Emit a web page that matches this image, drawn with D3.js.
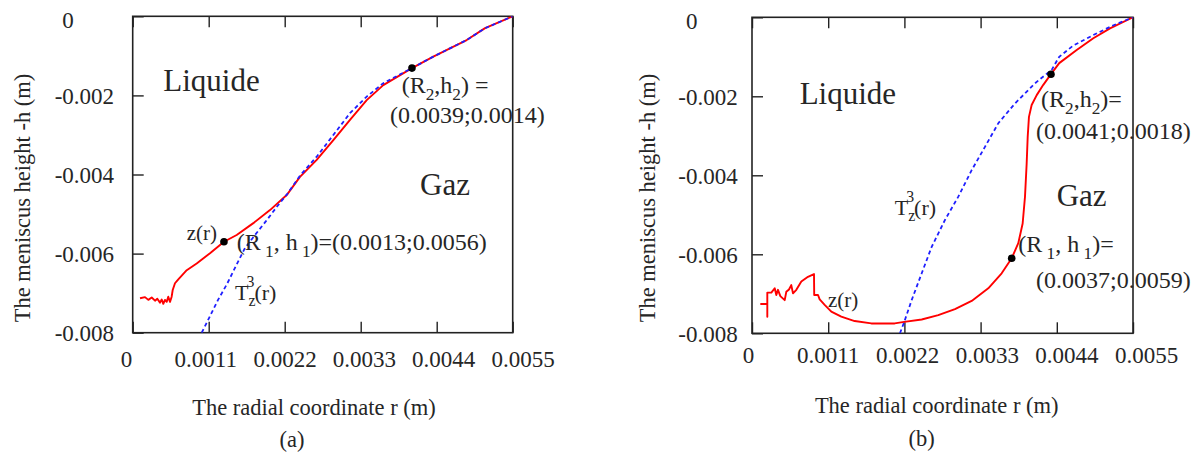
<!DOCTYPE html>
<html><head><meta charset="utf-8">
<script src="https://cdn.jsdelivr.net/npm/d3@7"></script>
<style>
body{margin:0;background:#fff}
svg text{font-family:"Liberation Serif","Times New Roman",serif;fill:#262626}
</style>
</head><body><svg id="c" width="1199" height="453"></svg>
<script>
// ---------- data ----------
const xTicks = [0, 0.0011, 0.0022, 0.0033, 0.0044, 0.0055];
const xTickLabels = ["0", "0.0011", "0.0022", "0.0033", "0.0044", "0.0055"];
const yTicks = [0, -0.002, -0.004, -0.006, -0.008];
const yTickLabels = ["0", "-0.002", "-0.004", "-0.006", "-0.008"];

// panel (a) : measured profile z(r)
const zA_r = [0.000106, 0.000178, 0.000226, 0.000275, 0.000323, 0.000356, 0.000395, 0.00042, 0.000443, 0.000467, 0.000492, 0.000515, 0.00054, 0.000564, 0.000579, 0.000612, 0.00066, 0.000782, 0.000926, 0.001119, 0.001321, 0.001505, 0.001746, 0.001987, 0.002229, 0.002421, 0.002663, 0.002904, 0.003145, 0.003387, 0.003627, 0.004042, 0.004351, 0.004592, 0.004834, 0.0051, 0.0055];
const zA_h = [-0.00713, -0.0071, -0.00717, -0.00711, -0.00719, -0.00714, -0.00724, -0.00716, -0.00727, -0.00717, -0.00722, -0.00709, -0.00722, -0.00709, -0.00692, -0.00675, -0.00665, -0.00642, -0.00625, -0.00599, -0.0057, -0.00553, -0.00523, -0.0049, -0.00452, -0.00406, -0.00363, -0.00313, -0.00262, -0.00212, -0.00174, -0.00131, -0.00102, -0.00081, -0.0006, -0.0003, 0];
// panel (a) : T_z^3(r)
const tA_r = [0.000999, 0.001119, 0.001235, 0.001365, 0.001495, 0.001625, 0.00177, 0.001929, 0.002089, 0.002233, 0.002421, 0.002663, 0.002904, 0.003145, 0.003387, 0.003627, 0.004042, 0.004351, 0.004592, 0.004834, 0.0051, 0.0055];
const tA_h = [-0.008, -0.00758, -0.00717, -0.00677, -0.00631, -0.00586, -0.00553, -0.00518, -0.00481, -0.0045, -0.00403, -0.00355, -0.003, -0.00245, -0.00203, -0.00169, -0.00131, -0.00102, -0.00081, -0.0006, -0.0003, 0];
const ptsA_r = [0.001321, 0.004042];
const ptsA_h = [-0.0057, -0.00131];

// panel (b) : measured profile z(r)
const zB_r = [0.00012, 0.000221, 0.000221, 0.000221, 0.000279, 0.000328, 0.000351, 0.000375, 0.000409, 0.000472, 0.000495, 0.000534, 0.000567, 0.000592, 0.00064, 0.000712, 0.000808, 0.000895, 0.000898, 0.000953, 0.000977, 0.001049, 0.001145, 0.001289, 0.001482, 0.001722, 0.00206, 0.002198, 0.00245, 0.002689, 0.00293, 0.003171, 0.003411, 0.003604, 0.003749, 0.003844, 0.003907, 0.003941, 0.003965, 0.00398, 0.003998, 0.004037, 0.00411, 0.004205, 0.004316, 0.004435, 0.004687, 0.004927, 0.005168, 0.0055];
const zB_h = [-0.00726, -0.00726, -0.00758, -0.00697, -0.00697, -0.00686, -0.00703, -0.0069, -0.00706, -0.00716, -0.00695, -0.00689, -0.00678, -0.00699, -0.0069, -0.00669, -0.00657, -0.0065, -0.00703, -0.00703, -0.00714, -0.00728, -0.00745, -0.00758, -0.00769, -0.00775, -0.00775, -0.00771, -0.00765, -0.00754, -0.00739, -0.00718, -0.00686, -0.00648, -0.0061, -0.00572, -0.00522, -0.00454, -0.0037, -0.00302, -0.00252, -0.00222, -0.00197, -0.00171, -0.00144, -0.00116, -0.00083, -0.00053, -0.00028, 0];
// panel (b) : T_z^3(r)
const tB_r = [0.002136, 0.002198, 0.002305, 0.00245, 0.002594, 0.002786, 0.002978, 0.003171, 0.003363, 0.003556, 0.003797, 0.004085, 0.004326, 0.004435, 0.004634, 0.004927, 0.00522, 0.0055];
const tB_h = [-0.008, -0.00771, -0.00716, -0.00648, -0.00581, -0.00513, -0.00454, -0.00387, -0.00328, -0.00268, -0.00218, -0.00167, -0.00133, -0.001, -0.00072, -0.00045, -0.0002, 0];
const ptsB_r = [0.003749, 0.004316];
const ptsB_h = [-0.0061, -0.00144];

// ---------- drawing ----------
const svg = d3.select("#c");
const zip = (a, b) => a.map((v, i) => [v, b[i]]);

function rich(g, x, y, parts, size, anchor) {
  const t = g.append("text").attr("x", x).attr("y", y).attr("font-size", size)
    .attr("text-anchor", anchor || "start");
  let cur = 0;
  parts.forEach(p => {
    const type = p[1] || "n";
    const off = type === "sub" ? size * 0.28 : type === "sup" ? -size * 0.58 : 0;
    const ts = t.append("tspan").text(p[0]).attr("dy", off - cur);
    if (type !== "n") ts.attr("font-size", size * 0.72);
    if (p[2]) ts.attr("dx", p[2]);
    cur = off;
  });
  return t;
}

function drawPanel(p) {
  const x = d3.scaleLinear().domain([0, 0.0055]).range([p.L, p.R]);
  const y = d3.scaleLinear().domain([-0.008, 0]).range([p.B, p.T]);
  const xl = d3.scaleLinear().domain([0, 0.0055]).range(p.xLabRange);
  const g = svg.append("g");
  const clipId = "clip" + p.id;
  svg.append("clipPath").attr("id", clipId).append("rect")
    .attr("x", p.L).attr("y", p.T).attr("width", p.R - p.L).attr("height", p.B - p.T);

  const tick = 11;
  const styleAxis = sel => { sel.select(".domain").remove(); sel.selectAll("line").attr("stroke", "#222").attr("stroke-width", 1.4); };
  g.append("g").attr("transform", `translate(0,${p.B})`)
    .call(d3.axisTop(x).tickValues(xTicks).tickSize(tick).tickFormat("")).call(styleAxis);
  g.append("g").attr("transform", `translate(0,${p.T})`)
    .call(d3.axisBottom(x).tickValues(xTicks).tickSize(tick).tickFormat("")).call(styleAxis);
  g.append("g").attr("transform", `translate(${p.L},0)`)
    .call(d3.axisRight(y).tickValues(yTicks).tickSize(tick).tickFormat("")).call(styleAxis);

  // x tick labels
  const xa = g.append("g").attr("transform", `translate(0,${p.xLabY})`)
    .call(d3.axisBottom(xl).tickValues(xTicks).tickSize(0).tickFormat((d, i) => xTickLabels[i]));
  xa.select(".domain").remove();
  xa.attr("font-family", null).attr("font-size", null);
  xa.selectAll("text").attr("y", 0).attr("dy", 0).attr("font-size", 23);

  // y tick labels
  const ya = g.append("g").attr("transform", `translate(${p.yLabX},0)`)
    .call(d3.axisLeft(y).tickValues(yTicks).tickSize(0).tickFormat((d, i) => yTickLabels[i]));
  ya.select(".domain").remove();
  ya.attr("font-family", null).attr("font-size", null);
  ya.selectAll("text").attr("x", 0).attr("dy", d => d === 0 ? "0.5em" : "0.35em").attr("font-size", 23)
    .attr("text-anchor", "start").attr("dx", d => d < 0 ? "-0.333em" : 0);

  // frame
  g.append("rect").attr("x", p.L).attr("y", p.T).attr("width", p.R - p.L).attr("height", p.B - p.T)
    .attr("fill", "none").attr("stroke", "#222").attr("stroke-width", 1.6);

  const line = d3.line().x(d => x(d[0])).y(d => y(d[1]));
  const plot = g.append("g").attr("clip-path", `url(#${clipId})`);
  plot.append("path").datum(zip(p.z_r, p.z_h)).attr("d", line)
    .attr("fill", "none").attr("stroke", "#ff0000").attr("stroke-width", 1.9).attr("stroke-linejoin", "round");
  plot.append("path").datum(zip(p.t_r, p.t_h)).attr("d", line)
    .attr("fill", "none").attr("stroke", "#1f1fff").attr("stroke-width", 1.8).attr("stroke-dasharray", "4,3");
  g.selectAll("circle.pt").data(zip(p.pt_r, p.pt_h)).enter().append("circle")
    .attr("cx", d => x(d[0])).attr("cy", d => y(d[1])).attr("r", 3.8).attr("fill", "#000");

  // titles
  g.append("text").attr("x", p.xTitle[0]).attr("y", p.xTitle[1]).attr("text-anchor", "middle")
    .attr("font-size", 22.5).text("The radial coordinate r (m)");
  g.append("text").attr("transform", `translate(${p.yTitle[0]},${p.yTitle[1]}) rotate(-90)`)
    .attr("text-anchor", "middle").attr("dy", "0.35em").attr("font-size", 22.5).text("The meniscus height -h (m)");
  g.append("text").attr("x", p.cap[0]).attr("y", p.cap[1]).attr("text-anchor", "middle")
    .attr("font-size", 22.5).text(p.capText);
  return g;
}

const gA = drawPanel({
  id: "A", L: 132.7, R: 512.7, T: 16.3, B: 332.7,
  xLabRange: [126, 522.5], xLabY: 366.5, yLabX: 62.3,
  z_r: zA_r, z_h: zA_h, t_r: tA_r, t_h: tA_h, pt_r: ptsA_r, pt_h: ptsA_h,
  xTitle: [314, 415], yTitle: [22, 198], cap: [292, 447], capText: "(a)"
});
gA.append("text").attr("x", 163.3).attr("y", 91).attr("font-size", 31).text("Liquide");
gA.append("text").attr("x", 420).attr("y", 195).attr("font-size", 31).text("Gaz");
rich(gA, 186.7, 240, [["z(r)"]], 21);
rich(gA, 236.7, 250, [["(R"], [" 1", "sub"], [", h"], [" 1", "sub"], [")=(0.0013;0.0056)"]], 24);
rich(gA, 235, 300, [["T"], ["z", "sub"], ["3", "sup", -9], ["(r)"]], 22);
rich(gA, 401.7, 93, [["(R"], ["2", "sub"], [",h"], ["2", "sub"], [") ="]], 24);
rich(gA, 390, 123, [["(0.0039;0.0014)"]], 24);

const gB = drawPanel({
  id: "B", L: 752, R: 1133, T: 17.3, B: 333.3,
  xLabRange: [748, 1146], xLabY: 363.3, yLabX: 686,
  z_r: zB_r, z_h: zB_h, t_r: tB_r, t_h: tB_h, pt_r: ptsB_r, pt_h: ptsB_h,
  xTitle: [936.7, 413.3], yTitle: [647, 198], cap: [921.7, 446], capText: "(b)"
});
gB.append("text").attr("x", 799.7).attr("y", 104.3).attr("font-size", 31).text("Liquide");
gB.append("text").attr("x", 1056.7).attr("y", 206).attr("font-size", 31).text("Gaz");
rich(gB, 828, 307, [["z(r)"]], 21);
rich(gB, 894.7, 215, [["T"], ["z", "sub"], ["3", "sup", -9], ["(r)"]], 22);
rich(gB, 1018.3, 252, [["(R"], [" 1", "sub"], [", h"], [" 1", "sub"], [")="]], 24);
rich(gB, 1036, 288, [["(0.0037;0.0059)"]], 24);
rich(gB, 1041, 107, [["(R"], ["2", "sub"], [",h"], ["2", "sub"], [")="]], 24);
rich(gB, 1036, 139, [["(0.0041;0.0018)"]], 24);
</script>
</body></html>
